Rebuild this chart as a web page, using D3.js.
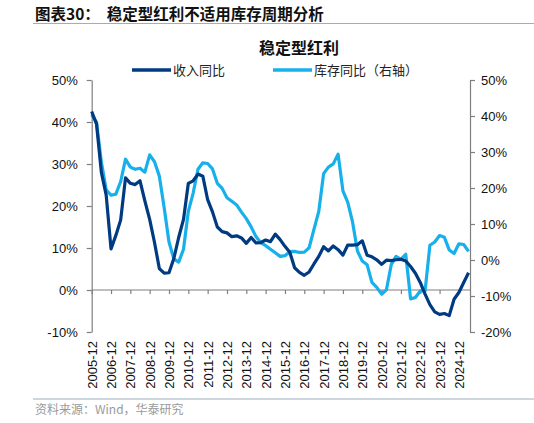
<!DOCTYPE html>
<html>
<head>
<meta charset="utf-8">
<script src="https://cdn.jsdelivr.net/npm/d3@7"></script>
<style>
  html, body { margin: 0; padding: 0; background: #fff; }
  svg { display: block; }
  text { font-family: "Liberation Sans", Arial, "Noto Sans CJK SC", sans-serif; }
  .cjk { font-family: "Noto Sans CJK SC", "Liberation Sans", sans-serif; }
</style>
</head>
<body>
<svg id="chart" width="534" height="423"></svg>
<script>
// ---------------- data (quarterly, 2005-12 .. 2025-06) ----------------
const yearLabels = ["2005-12","2006-12","2007-12","2008-12","2009-12","2010-12","2011-12",
  "2012-12","2013-12","2014-12","2015-12","2016-12","2017-12","2018-12","2019-12",
  "2020-12","2021-12","2022-12","2023-12","2024-12"];

const seriesNames = ["收入同比", "库存同比（右轴）"];

// 收入同比 (left axis, %)
const revenueYoY = [42.5,39.5,28,22.6,9.8,13,16.7,26.7,25.4,25.1,
  26,21.2,16.8,11.3,5.1,4.0,4.1,7.5,12.5,16.8,
  25.4,26,27.6,27.1,21.5,18.6,15,13.9,13.6,12.7,
  12.9,12.4,11.1,12.5,11.2,11.3,11.9,11.5,13.3,12,
  10.4,9,5.3,4.2,3.5,4.3,6.2,8,10.3,9.3,
  10.5,9.6,8.3,10.7,10.7,10.8,11.7,8.3,7.9,7.2,
  6.1,7.1,7,7.2,7.3,6.9,5.6,4.0,1.8,-1,
  -3.5,-5.2,-5.8,-5.6,-6.1,-2.2,-0.6,1.8,4.1];

// 库存同比 (right axis, %)
const inventoryYoY = [40.3,38.3,27.2,19.5,18,18.3,21.8,28,25.8,25.2,
  25.5,24.4,29.2,27.3,23.3,14.5,5.0,0.3,-0.6,3,
  13.5,18.6,25.2,27,26.8,25.3,21.3,19.9,17.3,16.3,
  15.3,13.3,11.5,9.2,6.5,4.8,4.0,3.0,2.0,1.0,
  1.2,2.3,2.4,2.1,2.2,3.4,8.5,13.5,24,25.8,
  26.7,29.4,19.2,16,10.5,2.5,-0.3,-1.3,-6.2,-7.6,
  -9.5,-8.3,-1.3,1.0,0.2,1.6,-10.8,-10.4,-8.6,-8.6,
  4.1,5,6.8,6.3,2.8,1.8,4.5,4.3,2.4];

const leftTicks = [-10,0,10,20,30,40,50];
const rightTicks = [-20,-10,0,10,20,30,40,50];

// ---------------- layout ----------------
const svg = d3.select("#chart");
const plotLeft = 91.7, plotRight = 470, plotTop = 80, plotBottom = 332;
const colDark = "#003a80", colLight = "#17b0ea";
const ruleColor = "#9eadc2";

const x = d3.scaleLinear().domain([0, 78.3]).range([plotLeft, plotRight]);
const yL = d3.scaleLinear().domain([-10, 50]).range([plotBottom, plotTop]);
const yR = d3.scaleLinear().domain([-20, 50]).range([plotBottom, plotTop]);

// header
svg.append("text").attr("class","cjk").attr("x",35).attr("y",19.5)
  .attr("font-size",15.5).attr("font-weight","bold").attr("fill","#111")
  .text("图表30：  稳定型红利不适用库存周期分析").attr("xml:space","preserve");
svg.append("line").attr("x1",33).attr("x2",534).attr("y1",23.5).attr("y2",23.5)
  .attr("stroke",ruleColor).attr("stroke-width",1.2);

// chart title
svg.append("text").attr("class","cjk").attr("x",299).attr("y",54)
  .attr("text-anchor","middle").attr("font-size",16).attr("font-weight","bold")
  .attr("fill","#111").text("稳定型红利");

// legend
const legend = [
  {name: seriesNames[0], color: colDark, x0: 132},
  {name: seriesNames[1], color: colLight, x0: 273}
];
legend.forEach(l => {
  svg.append("line").attr("x1",l.x0).attr("x2",l.x0+39).attr("y1",70).attr("y2",70)
    .attr("stroke",l.color).attr("stroke-width",3.5);
  svg.append("text").attr("class","cjk").attr("x",l.x0+41).attr("y",74.5)
    .attr("font-size",13).attr("fill","#222").text(l.name);
});

// axes
const axisColor = "#7f7f7f";
function styleAxis(g) {
  g.selectAll("path.domain").attr("stroke",axisColor).attr("stroke-width",1.2);
  g.selectAll(".tick line").attr("stroke",axisColor).attr("stroke-width",1.2);
  g.selectAll(".tick text").attr("fill","#111").attr("font-size",13)
    .attr("font-family","Liberation Sans, Arial, sans-serif");
}

const gL = svg.append("g").attr("transform",`translate(${plotLeft},0)`)
  .call(d3.axisLeft(yL).tickValues(leftTicks).tickSize(5).tickSizeOuter(0).tickPadding(9)
    .tickFormat(d => d + "%"));
styleAxis(gL);

const gR = svg.append("g").attr("transform",`translate(${plotRight},0)`)
  .call(d3.axisRight(yR).tickValues(rightTicks).tickSize(5).tickSizeOuter(0).tickPadding(6)
    .tickFormat(d => d + "%"));
styleAxis(gR);

const yearIdx = yearLabels.map((d,i) => i*4);
const gX = svg.append("g").attr("transform",`translate(0,${yL(0)})`)
  .call(d3.axisBottom(x).tickValues(yearIdx).tickSize(4).tickSizeOuter(0).tickFormat(""));
styleAxis(gX);
gX.select("path.domain").attr("d", `M${plotLeft},0H${plotRight}`);

const gXL = svg.append("g").attr("transform",`translate(0,${plotBottom})`)
  .call(d3.axisBottom(x).tickValues(yearIdx).tickSize(0).tickFormat((d,i) => yearLabels[i]));
gXL.select("path.domain").remove();
gXL.selectAll(".tick text")
  .attr("transform","rotate(-90)")
  .attr("text-anchor","end")
  .attr("x",-9).attr("y",0).attr("dy","0.35em")
  .attr("font-size",13).attr("fill","#111")
  .attr("font-family","Liberation Sans, Arial, sans-serif");

// lines
const lineL = d3.line().x((d,i) => x(i)).y(d => yL(d));
const lineR = d3.line().x((d,i) => x(i)).y(d => yR(d));

svg.append("path").datum(inventoryYoY).attr("d",lineR)
  .attr("fill","none").attr("stroke",colLight).attr("stroke-width",3.2)
  .attr("stroke-linejoin","round");
svg.append("path").datum(revenueYoY).attr("d",lineL)
  .attr("fill","none").attr("stroke",colDark).attr("stroke-width",3.2)
  .attr("stroke-linejoin","round");

// footer
svg.append("line").attr("x1",33).attr("x2",534).attr("y1",399).attr("y2",399)
  .attr("stroke",ruleColor).attr("stroke-width",1.2);
svg.append("text").attr("class","cjk").attr("x",35).attr("y",414)
  .attr("font-size",12).attr("fill","#9a9a9a").text("资料来源：Wind，华泰研究");
</script>
</body>
</html>
